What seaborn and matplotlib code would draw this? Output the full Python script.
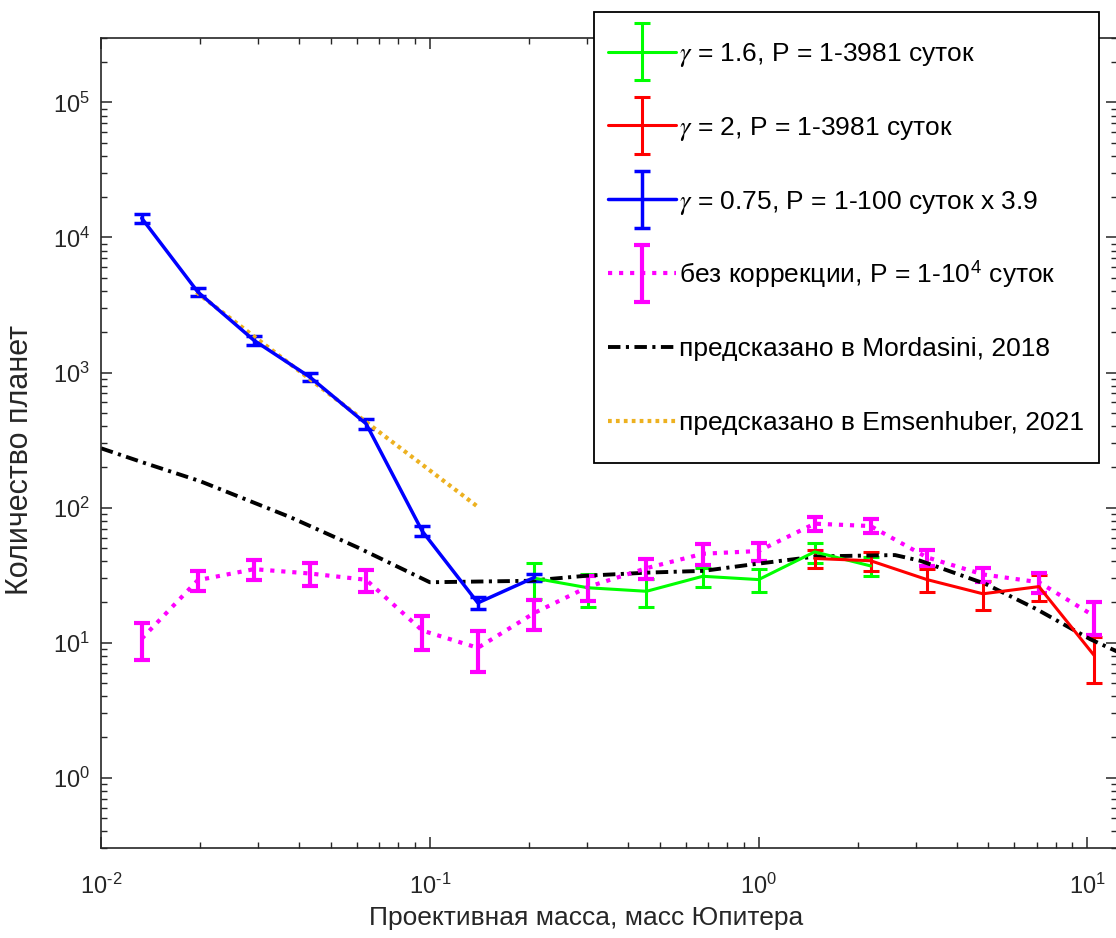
import numpy as np
import matplotlib
matplotlib.use("Agg")
import matplotlib.pyplot as plt
import seaborn as sns
from matplotlib.container import ErrorbarContainer
from matplotlib.lines import Line2D
from matplotlib.legend_handler import HandlerErrorbar, HandlerLine2D
from matplotlib.ticker import LogLocator, NullFormatter, FuncFormatter

# центры бинов по проективной массе (массы Юпитера)
mass = [0.0133, 0.0197, 0.0292, 0.0432, 0.0640, 0.0948, 0.140, 0.208, 0.302,
        0.456, 0.676, 1.00, 1.48, 2.19, 3.25, 4.81, 7.12, 10.5]

# gamma = 0.75, P = 1-100 суток x 3.9 (бины 0..7)
blue_n = [13900, 3950, 1730, 925, 418, 67, 19.7, 30.4]
blue_err = [1100, 280, 120, 60, 35, 5.6, 2.0, 2.0]

# gamma = 1.6 (бины 7..13)
green_n = [30, 25.5, 24, 31, 29.3, 47, 37]
green_err = [9, 7, 5.5, 5, 5.7, 8, 6]

# gamma = 2 (бины 12..17)
red_n = [42, 40.4, 29.3, 23, 26, 8]
red_err = [6.4, 6.5, 5.7, 5.5, 5.5, 3.0]

# без коррекции
raw_n = [10.7, 29, 35, 32.5, 29.2, 12.3, 9.15, 16.6, 25.8, 35.6, 45.5, 47.7,
         76, 73, 42.8, 32, 28, 15.7]
raw_err = [3.3, 5, 6, 6.1, 5.3, 3.5, 3.1, 4.2, 5.4, 6, 8, 7.4, 8.6, 8.7, 5.7,
           4, 4.6, 4.4]

# модели
mord_x = [0.01, 0.0134, 0.02, 0.0376, 0.06, 0.1, 0.2, 0.3, 0.46, 0.68, 0.96,
          1.5, 2.6, 3.1, 4.9, 7.0, 10.2, 12.3]
mord_y = [275, 216, 157, 85, 51, 28, 28.7, 31.3, 33, 34, 38, 43.5, 44.5, 40.4,
          27.2, 17.7, 10.6, 8.6]
emsen_x = [0.0195, 0.043, 0.064, 0.141]
emsen_y = [3930, 900, 430, 100]

xticks = [0.01, 0.1, 1, 10]
yticks = [1, 10, 100, 1000, 1e4, 1e5]

labels = [
    r"$\gamma$ = 1.6, P = 1-3981 суток",
    r"$\gamma$ = 2, P = 1-3981 суток",
    r"$\gamma$ = 0.75, P = 1-100 суток x 3.9",
    r"без коррекции, P = 1-10$^{\mathdefault{4}}$ суток",
    "предсказано в Mordasini, 2018",
    "предсказано в Emsenhuber, 2021",
]


# линия в значке легенды по центру текста, даже при большой handleheight
class MidErrorbar(HandlerErrorbar):
    def create_artists(self, legend, orig_handle, xdescent, ydescent,
                       width, height, fontsize, trans):
        return super().create_artists(legend, orig_handle, xdescent, ydescent,
                                      width, 0.7 * fontsize + ydescent,
                                      fontsize, trans)


class MidLine(HandlerLine2D):
    def create_artists(self, legend, orig_handle, xdescent, ydescent,
                       width, height, fontsize, trans):
        return super().create_artists(legend, orig_handle, xdescent, ydescent,
                                      width, 0.7 * fontsize + ydescent,
                                      fontsize, trans)


def pow10(v, pos):
    e = int(round(np.log10(v)))
    if e < 0:
        return r"$\mathdefault{10^{\text{-}%d}}$" % (-e)
    return r"$\mathdefault{10^{%d}}$" % e


sns.set_style("ticks")
plt.rcParams["font.family"] = ["Liberation Sans", "DejaVu Sans"]
plt.rcParams["mathtext.fontset"] = "stix"
plt.rcParams["axes.unicode_minus"] = False
plt.rcParams["text.color"] = "#262626"

fig = plt.figure(figsize=(11.16, 9.38), dpi=100)
ax = fig.add_axes([101 / 1116, 1 - 848.3 / 938, 1016 / 1116, 810.3 / 938])
ax.set_xscale("log")
ax.set_yscale("log")

eb_g = ax.errorbar(mass[7:14], green_n, yerr=green_err, color="#00ff00",
                   lw=2.2, elinewidth=2.2, capsize=6, capthick=2.2)
eb_r = ax.errorbar(mass[12:18], red_n, yerr=red_err, color="#ff0000",
                   lw=2.2, elinewidth=2.2, capsize=6, capthick=2.2)
eb_b = ax.errorbar(mass[0:8], blue_n, yerr=blue_err, color="#0000ff",
                   lw=2.5, elinewidth=2.5, capsize=6, capthick=2.5)
eb_m = ax.errorbar(mass, raw_n, yerr=raw_err, color="#ff00ff", ls=":",
                   lw=3, elinewidth=3, capsize=6, capthick=3)

sns.lineplot(x=mord_x, y=mord_y, ax=ax, color="black", lw=2.8,
             linestyle=(0, (3.2, 1.4, 0.8, 1.4)))
ln_k = ax.lines[-1]
sns.lineplot(x=emsen_x, y=emsen_y, ax=ax, color="#edb120", lw=3,
             linestyle=(0, (0.9, 1.0)))
ln_o = ax.lines[-1]

ax.set_xlim(0.01, 12.3)
ax.set_ylim(0.3, 3e5)
ax.set_xticks(xticks)
ax.set_yticks(yticks)
ax.yaxis.set_minor_locator(LogLocator(base=10, subs=range(2, 10), numticks=20))
ax.xaxis.set_major_formatter(FuncFormatter(pow10))
ax.yaxis.set_major_formatter(FuncFormatter(pow10))
ax.yaxis.set_minor_formatter(NullFormatter())
ax.xaxis.set_minor_formatter(NullFormatter())

ax.tick_params(which="both", direction="in", top=True, right=True,
               colors="#262626", labelsize=17)
ax.tick_params(which="major", length=8, width=1.1)
ax.tick_params(which="minor", length=4.5, width=1.0)
ax.tick_params(axis="x", pad=18)
ax.tick_params(axis="y", pad=8)
for s in ax.spines.values():
    s.set_color("#262626")
    s.set_linewidth(1.2)

ax.set_xlabel("Проективная масса, масс Юпитера", fontsize=19, color="#262626")
ax.set_ylabel("Количество планет", fontsize=22, color="#262626")
ax.xaxis.set_label_coords((586 - 101) / 1016, (848.3 - 906) / 810.3)
ax.yaxis.set_label_coords((35 - 101) / 1016, (848.3 - 460) / 810.3)

leg = fig.legend([eb_g, eb_r, eb_b, eb_m, ln_k, ln_o], labels,
                 loc="upper right", bbox_to_anchor=(1099 / 1116, 1 - 12 / 938),
                 bbox_transform=fig.transFigure, fontsize=19,
                 handlelength=2.55, handleheight=2.7, handletextpad=0.15,
                 labelspacing=0.8, borderpad=0.55, borderaxespad=0,
                 fancybox=False, framealpha=1, edgecolor="black",
                 handler_map={ErrorbarContainer: MidErrorbar(xerr_size=0.5, yerr_size=1.08),
                              Line2D: MidLine()})
leg.get_frame().set_linewidth(1.3)
for t in leg.get_texts():
    t.set_color("black")

fig.savefig("out.png", dpi=100)
